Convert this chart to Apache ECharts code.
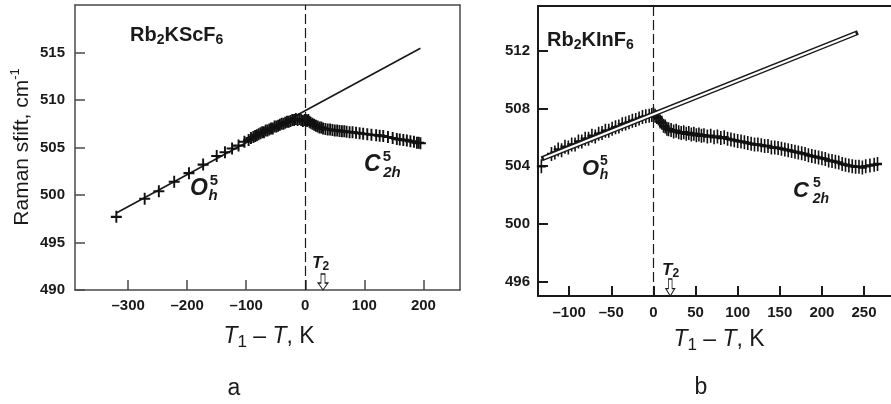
<!DOCTYPE html>
<html>
<head>
<meta charset="utf-8">
<script src="https://cdn.jsdelivr.net/npm/echarts@6/dist/echarts.min.js"></script>
<style>
  html, body { margin: 0; padding: 0; background: #fff; }
  #chart { width: 891px; height: 404px; }
</style>
</head>
<body>
<div id="chart"></div>
<script>
// ---------- Panel a: Rb2KScF6 ----------
// linear fit through the cubic-phase points, extrapolated past T1
const aFitT = [-320, 195];
const aFitR = [498.1, 515.45];
// cubic (O_h^5) phase, T1 - T < 0
const aCubT = [-320, -272, -248, -222, -197, -173, -150, -136, -124, -113, -103, -96, -92, -88, -85, -82, -79, -76, -73, -70, -67, -64, -61, -58, -55, -52, -49, -46, -43, -40, -37, -34, -31, -28, -25, -22, -19, -16, -13, -10, -7, -4, -1];
const aCubR = [497.7, 499.6, 500.4, 501.4, 502.3, 503.2, 504.1, 504.5, 504.9, 505.2, 505.6, 505.8, 506.0, 506.1, 506.2, 506.3, 506.4, 506.5, 506.6, 506.6, 506.8, 506.8, 506.9, 507.0, 507.0, 507.2, 507.2, 507.3, 507.4, 507.5, 507.5, 507.6, 507.7, 507.7, 507.8, 507.9, 507.9, 508.0, 507.9, 508.0, 507.9, 507.8, 507.9];
// monoclinic (C_2h^5) phase, T1 - T > 0
const aMonT = [1, 3, 5, 7, 9, 12, 15, 18, 21, 24, 27, 30, 34, 38, 42, 46, 50, 54, 58, 62, 66, 70, 75, 80, 86, 92, 98, 105, 112, 120, 126, 132, 140, 148, 155, 160, 166, 172, 178, 184, 189, 192, 195];
const aMonR = [507.9, 507.8, 507.9, 507.7, 507.6, 507.5, 507.4, 507.3, 507.2, 507.1, 507.1, 507.0, 506.95, 506.9, 506.9, 506.85, 506.8, 506.8, 506.75, 506.7, 506.7, 506.65, 506.6, 506.6, 506.55, 506.5, 506.45, 506.4, 506.35, 506.3, 506.25, 506.2, 506.1, 506.0, 505.9, 505.85, 505.8, 505.75, 505.65, 505.6, 505.5, 505.5, 505.45];
const aXTicks = [-300, -200, -100, 0, 100, 200];
const aYTicks = [490, 495, 500, 505, 510, 515];
const aT2 = 30;

// ---------- Panel b: Rb2KInF6 ----------
const bFitT = [-130, 240];
const bFitR = [504.57, 513.2];
const bCubT = [-133, -121, -117, -113, -109, -105, -101, -97, -93, -89, -85, -81, -77, -73, -69, -65, -61, -57, -53, -49, -45, -41, -37, -33, -29, -25, -21, -17, -13, -9, -5, -2];
const bCubR = [504.0, 504.85, 504.95, 505.15, 505.1, 505.35, 505.3, 505.5, 505.5, 505.7, 505.7, 505.9, 505.9, 506.1, 506.05, 506.25, 506.3, 506.45, 506.45, 506.6, 506.7, 506.75, 506.9, 506.95, 507.05, 507.15, 507.2, 507.3, 507.4, 507.45, 507.5, 507.55];
const bMonT = [0, 2, 4, 6, 8, 10, 12, 14, 16, 18, 21, 24, 27, 30, 33, 36, 39, 42, 45, 48, 51, 54, 57, 60, 64, 68, 72, 76, 80, 84, 88, 92, 96, 100, 104, 108, 112, 116, 120, 124, 128, 132, 136, 140, 144, 148, 152, 156, 160, 164, 168, 172, 176, 180, 184, 188, 192, 196, 200, 204, 208, 212, 216, 220, 224, 228, 232, 236, 240, 244, 248, 252, 257, 262, 266];
const bMonR = [507.6, 507.5, 507.4, 507.3, 507.1, 507.0, 506.8, 506.75, 506.6, 506.55, 506.5, 506.4, 506.45, 506.35, 506.3, 506.35, 506.25, 506.3, 506.2, 506.25, 506.15, 506.2, 506.1, 506.15, 506.05, 506.1, 506.0, 506.05, 505.95, 506.0, 505.9, 505.85, 505.8, 505.75, 505.7, 505.65, 505.6, 505.55, 505.5, 505.5, 505.45, 505.4, 505.4, 505.3, 505.3, 505.25, 505.2, 505.15, 505.1, 505.05, 505.0, 504.95, 504.9, 504.85, 504.75, 504.7, 504.65, 504.6, 504.55, 504.5, 504.4, 504.35, 504.3, 504.25, 504.15, 504.1, 504.05, 504.0, 503.95, 503.95, 503.9, 504.0, 504.05, 504.1, 504.15];
const bXTicks = [-100, -50, 0, 50, 100, 150, 200, 250];
const bYTicks = [496, 500, 504, 508, 512];
const bT2 = 20;

// ---------- styling helpers ----------
const FONT = '"Liberation Sans", Arial, Helvetica, sans-serif';
const INK = '#1a1a1a';
const A_BOX = '#4a4a4a';
const CROSS = 'path://M0,6L12,6M6,0L6,12';
const ARROW = 'path://M3,0L7,0L7,9L10,9L5,16L0,9L3,9Z';
const zip = (xs, ys) => xs.map((x, i) => [x, ys[i]]);
const fmtT = v => (v < 0 ? '\u2013' + Math.abs(v) : String(v));

function boxAxis(grid, min, max, pos, color, width) {
  return {
    gridIndex: grid, type: 'value', min, max, position: pos,
    axisLine: { show: true, onZero: false, lineStyle: { color, width } },
    axisTick: { show: false }, axisLabel: { show: false }, splitLine: { show: false }
  };
}
function valueAxis(grid, min, max, pos, ticks, color, width, fontSize, margin, fmt) {
  return {
    gridIndex: grid, type: 'value', min, max, position: pos,
    axisLine: { show: true, onZero: false, lineStyle: { color, width } },
    axisTick: { show: true, inside: true, length: 10, customValues: ticks, lineStyle: { color, width } },
    axisLabel: {
      customValues: ticks, formatter: fmt || (v => String(v)), margin,
      fontSize, fontWeight: 'bold', color: INK, fontFamily: FONT
    },
    splitLine: { show: false }
  };
}
function crosses(name, xi, data, size, width) {
  return {
    name, type: 'scatter', xAxisIndex: xi, yAxisIndex: xi, data,
    symbol: CROSS, symbolSize: size,
    itemStyle: { color: 'rgba(0,0,0,0)', borderColor: '#111', borderWidth: width, opacity: 1 },
    z: 3
  };
}
function phaseMarks(tc, t2, yMin, arrowSize) {
  return {
    markLine: {
      silent: true, symbol: 'none', label: { show: false },
      lineStyle: { color: INK, width: 1.2, type: [10, 4] },
      data: [{ xAxis: tc }]
    },
    markPoint: {
      silent: true, symbol: ARROW, symbolSize: arrowSize, symbolOffset: [0, '-50%'],
      itemStyle: { color: '#fff', borderColor: INK, borderWidth: 1 },
      label: { show: false },
      data: [{ coord: [t2, yMin] }]
    }
  };
}

// ---------- text annotations ----------
function txt(x, y, text, opt) {
  const o = opt || {};
  return {
    type: 'text', x, y, silent: true, rotation: o.rotation || 0,
    style: Object.assign({
      text, fill: INK, fontFamily: FONT,
      fontSize: o.fontSize || 16, fontWeight: o.fontWeight || 'normal', fontStyle: o.fontStyle || 'normal',
      align: o.align || 'left', verticalAlign: 'middle',
      textAlign: o.align || 'left', textVerticalAlign: 'middle'
    }, o.rich ? { rich: o.rich } : {})
  };
}
const tok = (size, extra) => Object.assign({ fontSize: size, fontFamily: FONT, fill: INK, color: INK }, extra || {});

const formulaRich = {
  m: tok(20, { fontWeight: 'bold', lineHeight: 24 }),
  s: tok(14, { fontWeight: 'bold', lineHeight: 12, verticalAlign: 'bottom' })
};
const axisNameRich = {
  i: tok(23, { fontStyle: 'italic', lineHeight: 28 }),
  n: tok(23, { lineHeight: 28 }),
  s: tok(17, { lineHeight: 14, verticalAlign: 'bottom' })
};
const t2Rich = {
  t: tok(17, { fontWeight: 'bold', fontStyle: 'italic', lineHeight: 20 }),
  s: tok(12, { fontWeight: 'bold', lineHeight: 11, verticalAlign: 'bottom' })
};
const yNameRich = {
  n: tok(21, { lineHeight: 26 }),
  p: tok(13, { lineHeight: 12, verticalAlign: 'top' })
};
const bi = (size) => ({ fontSize: size, fontWeight: 'bold', fontStyle: 'italic' });

const graphics = [
  // panel a
  txt(130, 35, '{m|Rb}{s|2}{m|KScF}{s|6}', { rich: formulaRich }),
  txt(22, 147, '{n|Raman sfift, cm}{p|-1}', { rich: yNameRich, align: 'center', rotation: Math.PI / 2 }),
  txt(269, 337, '{i|T}{s|1}{n| \u2013 }{i|T}{n|, K}', { rich: axisNameRich, align: 'center' }),
  txt(234, 389, 'a', { fontSize: 23, align: 'center' }),
  txt(190, 189, 'O', bi(23)),
  txt(214, 181, '5', { fontSize: 15, fontWeight: 'bold', align: 'center' }),
  txt(213, 196, 'h', Object.assign(bi(15), { align: 'center' })),
  txt(364, 165, 'C', bi(23)),
  txt(387, 157, '5', { fontSize: 15, fontWeight: 'bold', align: 'center' }),
  txt(392, 173, '2h', Object.assign(bi(15), { align: 'center' })),
  txt(312, 263, '{t|T}{s|2}', { rich: t2Rich }),
  // panel b
  txt(547, 40, '{m|Rb}{s|2}{m|KInF}{s|6}', { rich: formulaRich }),
  txt(719, 340, '{i|T}{s|1}{n| \u2013 }{i|T}{n|, K}', { rich: axisNameRich, align: 'center' }),
  txt(701, 388, 'b', { fontSize: 23, align: 'center' }),
  txt(582, 169, 'O', bi(22)),
  txt(604, 161, '5', { fontSize: 14, fontWeight: 'bold', align: 'center' }),
  txt(604, 175, 'h', Object.assign(bi(14), { align: 'center' })),
  txt(793, 191, 'C', bi(22)),
  txt(817, 183, '5', { fontSize: 14, fontWeight: 'bold', align: 'center' }),
  txt(821, 199, '2h', Object.assign(bi(14), { align: 'center' })),
  txt(662, 270, '{t|T}{s|2}', { rich: t2Rich })
];

const aMin = -390, aMax = 262, aYMin = 490, aYMax = 520;
const bMin = -137, bMax = 282, bYMin = 495, bYMax = 515.1;

const option = {
  animation: false,
  backgroundColor: '#fff',
  grid: [
    { left: 75, top: 5, width: 385, height: 285 },
    { left: 538, top: 6, right: 0, height: 290 }
  ],
  xAxis: [
    valueAxis(0, aMin, aMax, 'bottom', aXTicks, A_BOX, 1.5, 15, 8, fmtT),
    boxAxis(0, aMin, aMax, 'top', A_BOX, 1.5),
    valueAxis(1, bMin, bMax, 'bottom', bXTicks, INK, 2, 15, 9, fmtT),
    boxAxis(1, bMin, bMax, 'top', INK, 2)
  ],
  yAxis: [
    valueAxis(0, aYMin, aYMax, 'left', aYTicks, A_BOX, 1.5, 15, 10),
    valueAxis(1, bYMin, bYMax, 'left', bYTicks, INK, 2, 15, 8),
    boxAxis(0, aYMin, aYMax, 'right', A_BOX, 1.5)
  ],
  series: [
    // panel a
    { name: 'aFit', type: 'line', xAxisIndex: 0, yAxisIndex: 0, data: zip(aFitT, aFitR),
      showSymbol: false, lineStyle: { color: INK, width: 1.7 }, z: 2 },
    Object.assign(crosses('aCub', 0, zip(aCubT, aCubR), [11, 12], 2), phaseMarks(0, aT2, aYMin, [10, 16])),
    { name: 'aMonLine', type: 'line', xAxisIndex: 0, yAxisIndex: 0, data: zip(aMonT, aMonR),
      showSymbol: false, lineStyle: { color: INK, width: 1.6 }, z: 2 },
    crosses('aMon', 0, zip(aMonT, aMonR), [11, 12], 2),
    // panel b
    Object.assign(crosses('bCub', 2, zip(bCubT, bCubR), [9, 14], 2), phaseMarks(0, bT2, bYMin, [9, 17])),
    crosses('bMon', 2, zip(bMonT, bMonR), [9, 14], 2),
    { name: 'bFitOuter', type: 'line', xAxisIndex: 2, yAxisIndex: 1, data: zip(bFitT, bFitR),
      showSymbol: false, lineStyle: { color: INK, width: 5, cap: 'square' }, z: 4 },
    { name: 'bFitInner', type: 'line', xAxisIndex: 2, yAxisIndex: 1, data: zip(bFitT, bFitR),
      showSymbol: false, lineStyle: { color: '#fff', width: 2.2, cap: 'butt' }, z: 5 }
  ],
  graphic: graphics
};

// the second grid's value axes are xAxis[2] and yAxis[1]
option.series.forEach(s => { if (s.xAxisIndex === 2) s.yAxisIndex = 1; });

const chart = echarts.init(document.getElementById('chart'), null, { renderer: 'canvas' });
chart.setOption(option);
</script>
</body>
</html>
